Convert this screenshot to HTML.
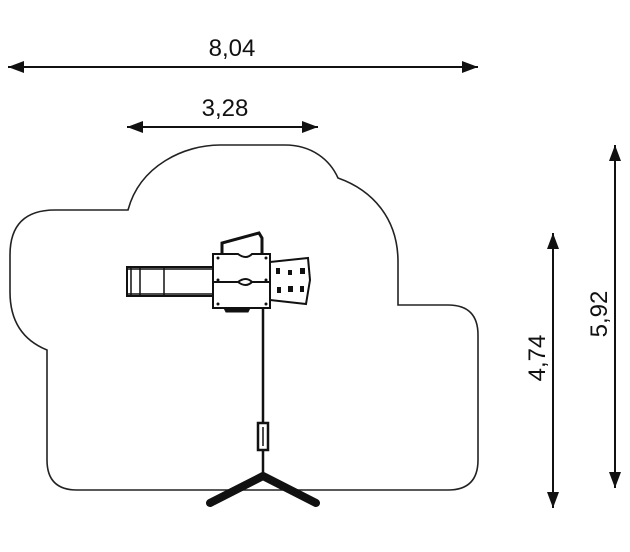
<!DOCTYPE html>
<html><head><style>body{margin:0;background:#fff}svg{display:block}</style></head><body>
<svg width="630" height="552" viewBox="0 0 630 552" xmlns="http://www.w3.org/2000/svg" font-family="Liberation Sans, sans-serif">
<defs><marker id="a" markerWidth="10" markerHeight="8" refX="9" refY="4" orient="auto-start-reverse" markerUnits="userSpaceOnUse"><path d="M0,0 L18,4 L0,8 Z" transform="scale(0.55,1)" fill="#111"/></marker>
<marker id="b" viewBox="0 0 16 12" markerWidth="16" markerHeight="12" refX="16" refY="6" orient="auto-start-reverse" markerUnits="userSpaceOnUse"><path d="M0,0 L16,6 L0,12 Z" fill="#111"/></marker></defs>
<g stroke="#111" stroke-width="2" fill="none">
<line x1="8" y1="67" x2="478" y2="67" marker-start="url(#b)" marker-end="url(#b)"/>
<line x1="127" y1="127" x2="318" y2="127" marker-start="url(#b)" marker-end="url(#b)"/>
<line x1="553" y1="233" x2="553" y2="508" marker-start="url(#b)" marker-end="url(#b)"/>
<line x1="615" y1="145" x2="615" y2="488" marker-start="url(#b)" marker-end="url(#b)"/>
</g>
<g font-size="24" fill="#111" text-anchor="middle">
<text x="232" y="56">8,04</text>
<text x="225" y="116">3,28</text>
<text transform="translate(545,358) rotate(-90)">4,74</text>
<text transform="translate(607,314) rotate(-90)">5,92</text>
</g>
<path d="M128,210 C140,165 185,145 220,145 L285,145 C312,145 330,160 338,178 C372,190 398,218 398,262 L398,305 L448,305 Q478,305 478,335 L478,460 Q478,490 448,490 L77,490 Q47,490 47,460 L47,350 Q10,335 10,292 L10,255 Q10,210 55,210 Z" fill="none" stroke="#222" stroke-width="1.6"/>
<g stroke="#111" fill="none">
<line x1="263" y1="305" x2="263" y2="478" stroke-width="2.5"/>
<rect x="258" y="423" width="10" height="27" fill="#fff" stroke-width="2.5"/>
<line x1="263" y1="427" x2="263" y2="446" stroke-width="1.5"/>
<path d="M210,503 L263,476 L316,503" stroke-width="8" stroke-linecap="round" stroke-linejoin="round"/>
<rect x="127" y="267" width="88" height="29" stroke-width="2"/>
<line x1="127" y1="269" x2="215" y2="269" stroke-width="1.5"/>
<line x1="127" y1="294" x2="215" y2="294" stroke-width="1.5"/>
<line x1="131" y1="267" x2="131" y2="296" stroke-width="1.5"/>
<line x1="140" y1="267" x2="140" y2="296" stroke-width="1.5"/>
<line x1="164" y1="267" x2="164" y2="296" stroke-width="1.5"/>
<path d="M270,262 L308,258 L310,280 L306,304 L270,300 Z" fill="#fff" stroke-width="2"/>
<path d="M222,256 L222,243 L259,233 L262,238 L262,256" stroke-width="3"/>
<path d="M213,254 L238,254 Q246,260 252,254 L270,254 L270,282 L252,282 Q246,276 238,282 L213,282 Z" fill="#fff" stroke-width="2"/>
<path d="M213,282 L238,282 Q246,288 252,282 L270,282 L270,308 L213,308 Z" fill="#fff" stroke-width="2"/>
<path d="M224,308 L250,308 L248,312 L226,312 Z" fill="#111" stroke-width="1"/>
</g>
<g fill="#111">
<rect x="276" y="268" width="4" height="6"/><rect x="288" y="270" width="4" height="5"/><rect x="300" y="268" width="5" height="6"/>
<rect x="277" y="287" width="4" height="6"/><rect x="288" y="286" width="5" height="6"/><rect x="300" y="286" width="4" height="6"/>
<circle cx="218" cy="258" r="1.5"/><circle cx="266" cy="258" r="1.5"/><circle cx="218" cy="304" r="1.5"/><circle cx="266" cy="304" r="1.5"/>
<circle cx="218" cy="280" r="1.5"/><circle cx="266" cy="280" r="1.5"/>
</g>
</svg>
</body></html>
